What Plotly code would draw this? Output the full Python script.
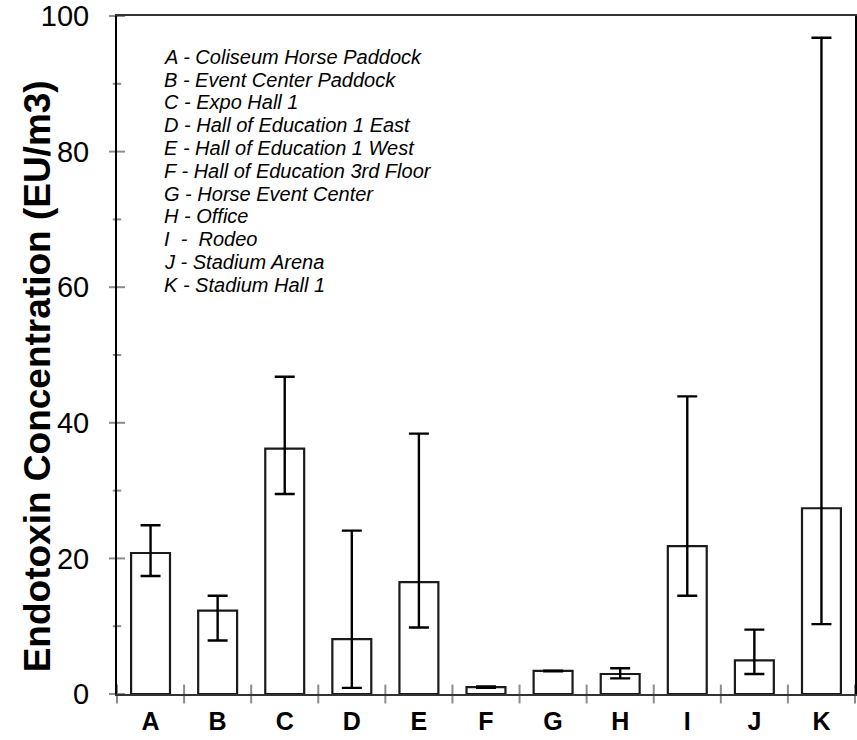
import numpy as np
import plotly.graph_objects as go

# ---- data ----
categories = ["A", "B", "C", "D", "E", "F", "G", "H", "I", "J", "K"]
mean_values = [20.8, 12.3, 36.2, 8.1, 16.5, 1.0, 3.4, 2.95, 21.8, 4.95, 27.4]
upper_values = [24.9, 14.5, 46.8, 24.1, 38.4, 1.1, 3.45, 3.8, 43.9, 9.5, 96.8]
lower_values = [17.4, 7.9, 29.5, 0.9, 9.8, 0.9, 3.35, 2.3, 14.5, 2.95, 10.3]
site_names = [
    "A - Coliseum Horse Paddock",
    "B - Event Center Paddock",
    "C - Expo Hall 1",
    "D - Hall of Education 1 East",
    "E - Hall of Education 1 West",
    "F - Hall of Education 3rd Floor",
    "G - Horse Event Center",
    "H - Office",
    "I \u00a0- \u00a0Rodeo",
    "J - Stadium Arena",
    "K - Stadium Hall 1",
]
y_title = "Endotoxin Concentration (EU/m3)"
y_major_ticks = [0, 20, 40, 60, 80, 100]
y_minor_ticks = [10, 30, 50, 70, 90]

err_plus = [u - m for u, m in zip(upper_values, mean_values)]
err_minus = [m - l for m, l in zip(mean_values, lower_values)]

FONT = "Liberation Sans, Arial, Helvetica, sans-serif"
TICKC = "#8c8c8c"
CLEAR = "rgba(0,0,0,0)"

n = len(categories)
boundaries = list(np.arange(n + 1) - 0.5)
x_left = boundaries[0]

fig = go.Figure()
fig.add_trace(go.Bar(
    x=categories, y=mean_values,
    width=0.58,
    marker=dict(color="white", line=dict(color="#1a1a1a", width=2.2)),
    error_y=dict(type="data", symmetric=False, array=err_plus, arrayminus=err_minus,
                 color="black", thickness=2.4, width=10),
    cliponaxis=False,
    showlegend=False,
))

# crossing tick marks (line symbols centred on the axes)
def tick_trace(xs, ys, symbol, size):
    return go.Scatter(x=xs, y=ys, xaxis="x2", yaxis="y2", mode="markers",
                      marker=dict(symbol=symbol, size=size, color=TICKC,
                                  line=dict(color=TICKC, width=2)),
                      cliponaxis=False, showlegend=False, hoverinfo="skip")

fig.add_trace(tick_trace(boundaries, [0] * len(boundaries), "line-ns", 13.5))
fig.add_trace(tick_trace([x_left] * len(y_major_ticks), y_major_ticks, "line-ew", 11.5))
fig.add_trace(tick_trace([x_left] * len(y_minor_ticks), y_minor_ticks, "line-ew", 6))

fig.update_layout(
    width=857, height=740,
    margin=dict(l=117, r=2, t=16, b=46),
    paper_bgcolor="white", plot_bgcolor="white",
    font=dict(family=FONT, color="black"),
    xaxis=dict(
        type="category", range=[-0.5, n - 0.5], automargin=False,
        ticks="outside", ticklen=4, tickcolor=CLEAR,
        showline=True, linecolor="#333333", linewidth=2, mirror=True,
        showgrid=False, zeroline=False, ticklabeloverflow="allow",
        tickfont=dict(family=FONT, size=25, color="black", weight="bold"),
    ),
    xaxis2=dict(overlaying="x", range=[-0.5, n - 0.5], visible=False, automargin=False),
    yaxis=dict(
        range=[0, 100], tickmode="array", tickvals=y_major_ticks, automargin=False,
        ticks="outside", ticklen=20, tickcolor=CLEAR,
        showline=True, linecolor="black", linewidth=2, mirror=True,
        showgrid=False, zeroline=False, ticklabeloverflow="allow",
        tickfont=dict(family=FONT, size=29, color="black"),
    ),
    yaxis2=dict(overlaying="y", range=[0, 100], visible=False, automargin=False),
)

# y axis title
fig.add_annotation(
    text="<b>" + y_title + "</b>", textangle=-90,
    xref="paper", yref="paper", x=-0.108, y=0.469, xanchor="center", yanchor="middle",
    showarrow=False, font=dict(family=FONT, size=37, color="black"),
)

# legend text block
top_px, step_px = 57.0, 22.8
for i, name in enumerate(site_names):
    ypx = top_px + i * step_px
    fig.add_annotation(
        text="<i>" + name + "</i>", xref="paper", yref="paper",
        x=(162 - 117) / 738, y=(694.3 - ypx) / 678, xanchor="left", yanchor="middle",
        showarrow=False, font=dict(family=FONT, size=20, color="black"),
    )

# remove the default 8px page margin so the figure sits at the window's corner
fig.write_html("out.html", config={"displayModeBar": False},
               post_script="document.body.style.margin='0';")
